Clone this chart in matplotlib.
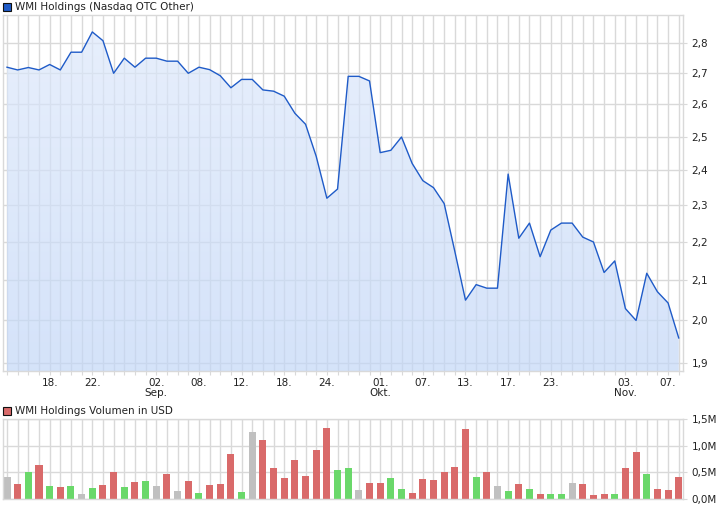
import numpy as np
import matplotlib
matplotlib.use('Agg')
import matplotlib.pyplot as plt
from matplotlib.patches import Rectangle, Polygon
from matplotlib.ticker import FixedLocator, NullLocator

# WMI Holdings, daily close 12.08.2008 - 10.11.2008 (64 trading days)
price = [2.72, 2.711, 2.719, 2.711, 2.729, 2.711, 2.77, 2.77, 2.839, 2.809,
         2.70, 2.75, 2.72, 2.75, 2.75, 2.74, 2.74, 2.70, 2.72, 2.712,
         2.692, 2.653, 2.68, 2.68, 2.646, 2.642, 2.626, 2.572, 2.538, 2.441,
         2.32, 2.346, 2.69, 2.69, 2.675, 2.452, 2.459, 2.499, 2.42, 2.37,
         2.35, 2.305, 2.175, 2.05, 2.089, 2.08, 2.08, 2.389, 2.21, 2.251,
         2.161, 2.232, 2.251, 2.251, 2.213, 2.20, 2.12, 2.15, 2.029, 2.00,
         2.118, 2.071, 2.043, 1.958]

# volume in USD (millions)
volume = [0.42, 0.28, 0.50, 0.64, 0.245, 0.226, 0.245, 0.094, 0.207, 0.264,
          0.51, 0.226, 0.32, 0.339, 0.245, 0.47, 0.15, 0.339, 0.113, 0.264,
          0.28, 0.847, 0.13, 1.26, 1.11, 0.584, 0.395, 0.734, 0.433, 0.923,
          1.337, 0.546, 0.584, 0.17, 0.30, 0.30, 0.395, 0.188, 0.113, 0.377,
          0.358, 0.508, 0.60, 1.318, 0.414, 0.508, 0.245, 0.15, 0.28, 0.188,
          0.094, 0.094, 0.094, 0.30, 0.28, 0.075, 0.094, 0.094, 0.584, 0.885,
          0.47, 0.188, 0.17, 0.414]

# x-axis labels (index -> label)
tick_idx = [4, 8, 14, 18, 22, 26, 30, 35, 39, 43, 47, 51, 58, 62]
tick_lab = ['18.', '22.', '02.\nSep.', '08.', '12.', '18.', '24.', '01.\nOkt.',
            '07.', '13.', '17.', '23.', '03.\nNov.', '07.']

price_ticks = [1.9, 2.0, 2.1, 2.2, 2.3, 2.4, 2.5, 2.6, 2.7, 2.8]
vol_ticks = [0.0, 0.5, 1.0, 1.5]

W, H = 726, 508
x = np.arange(len(price))
grid_c = '#d9d9d9'
line_c = '#1f5bc8'
txt_c = '#222222'
fs = 7.5

fig = plt.figure(figsize=(W / 100, H / 100), dpi=100)
fig.patch.set_facecolor('white')

def fbox(l, t, r, b):
    return [l / W, 1 - b / H, (r - l) / W, (b - t) / H]

# ---------------- price panel ----------------
ax = fig.add_axes(fbox(3, 15, 683, 371))
ax.set_yscale('log')
ax.set_xlim(-0.375, 63.4)
ax.set_ylim(1.881, 2.898)

# gradient fill under the line (semi-transparent, grid shows through)
poly = Polygon(np.column_stack([np.r_[x, x[-1], x[0]], np.r_[price, 1.0, 1.0]]),
               closed=True, transform=ax.transData, facecolor='none', edgecolor='none')
ax.add_patch(poly)
grad = np.linspace(0, 1, 256).reshape(-1, 1)
top_c = np.array([0.871, 0.914, 0.986])
bot_c = np.array([0.764, 0.843, 0.971])
img = (top_c + (bot_c - top_c) * grad).reshape(256, 1, 3)
im = ax.imshow(img, extent=[0, 1, 0, 1], transform=ax.transAxes, aspect='auto',
               origin='upper', zorder=1, alpha=0.7)
im.set_clip_path(poly)

ax.plot(x, price, color=line_c, lw=1.0, zorder=3)

ax.yaxis.set_major_locator(FixedLocator(price_ticks))
ax.yaxis.set_minor_locator(NullLocator())
ax.set_yticklabels([('%.1f' % v).replace('.', ',') for v in price_ticks])
ax.yaxis.tick_right()
ax.set_xticks(x)
labels = [''] * len(x)
for i, l in zip(tick_idx, tick_lab):
    labels[i] = l
ax.set_xticklabels(labels, linespacing=1.0)
ax.tick_params(axis='x', length=3, color=grid_c, pad=2, labelsize=fs, labelcolor=txt_c)
ax.tick_params(axis='y', length=3, color=grid_c, pad=3, labelsize=fs, labelcolor=txt_c)
ax.grid(True, color=grid_c, lw=1.0, zorder=0)
ax.set_axisbelow(True)
for s in ax.spines.values():
    s.set_color(grid_c)
    s.set_linewidth(1.0)

# ---------------- volume panel ----------------
av = fig.add_axes(fbox(3, 419, 683, 499))
d = np.diff(price)
cols = ['#c0c0c0']
for v in d:
    if v > 0:
        cols.append('#6ad86a')
    elif v < 0:
        cols.append('#d96a6a')
    else:
        cols.append('#c0c0c0')
av.bar(x, volume, width=0.66, color=cols, zorder=2)
av.set_xlim(-0.375, 63.4)
av.set_ylim(0, 1.5)
av.set_yticks(vol_ticks)
av.set_yticklabels([('%.1fM' % v).replace('.', ',') for v in vol_ticks])
av.yaxis.tick_right()
av.set_xticks(x)
av.set_xticklabels([])
av.tick_params(axis='x', length=0)
av.tick_params(axis='y', length=3, color=grid_c, pad=3, labelsize=fs, labelcolor=txt_c)
av.grid(True, color=grid_c, lw=1.0, zorder=0)
av.set_axisbelow(True)
for s in av.spines.values():
    s.set_color(grid_c)
    s.set_linewidth(1.0)

# ---------------- legend headers ----------------
fig.patches.append(Rectangle((3 / W, 1 - 11 / H), 8 / W, 8 / H, transform=fig.transFigure,
                             facecolor='#1f5bc8', edgecolor='#111111', lw=0.8))
fig.text(15 / W, 1 - 7.5 / H, 'WMI Holdings (Nasdaq OTC Other)', fontsize=fs,
         color=txt_c, va='center', ha='left')
fig.patches.append(Rectangle((3 / W, 1 - 414.5 / H), 8 / W, 8 / H, transform=fig.transFigure,
                             facecolor='#d96a6a', edgecolor='#111111', lw=0.8))
fig.text(15 / W, 1 - 410.5 / H, 'WMI Holdings Volumen in USD', fontsize=fs,
         color=txt_c, va='center', ha='left')

fig.savefig('out.png', dpi=100)
